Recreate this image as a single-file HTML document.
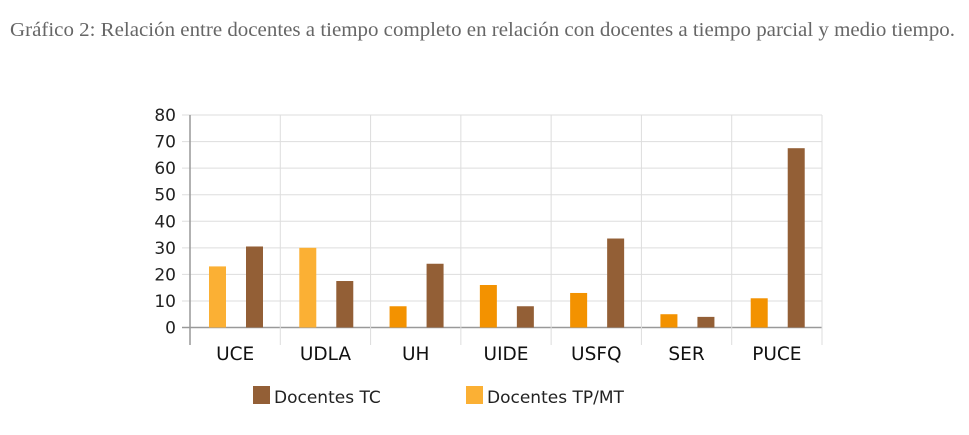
<!DOCTYPE html>
<html><head><meta charset="utf-8"><style>
body{margin:0;background:#fff;width:969px;height:430px;overflow:hidden}
svg text{font-family:"DejaVu Sans","Liberation Sans",sans-serif}
</style></head><body>
<svg width="969" height="430">
<text x="10" y="36" textLength="945" lengthAdjust="spacingAndGlyphs" style="font-family:'Liberation Serif',serif" font-size="19.5" fill="#666">Gráfico 2: Relación entre docentes a tiempo completo en relación con docentes a tiempo parcial y medio tiempo.</text>
<g id="plot"></g>
<rect x="253" y="386" width="17" height="18" fill="#935f36"/>
<text x="274" y="403" font-size="17" fill="#222">Docentes TC</text>
<rect x="466" y="386" width="17" height="18" fill="#fbb034"/>
<text x="487" y="403" font-size="17" fill="#222">Docentes TP/MT</text>
</svg>
<script>
const categories=["UCE","UDLA","UH","UIDE","USFQ","SER","PUCE"];
const tpValues=[23,30,8,16,13,5,11];
const tcValues=[30.5,17.5,24,8,33.5,4,67.5];
const yTicks=[0,10,20,30,40,50,60,70,80];
const NS="http://www.w3.org/2000/svg";
const g=document.getElementById("plot");
const x0=190,x1=822,yTop=115,yBot=327.5,yMax=80;
const cw=(x1-x0)/categories.length;
const y=v=>yBot-(v/yMax)*(yBot-yTop);
function mk(t,a){const e=document.createElementNS(NS,t);for(const k in a)e.setAttribute(k,a[k]);g.appendChild(e);return e;}
yTicks.forEach(t=>{
 const l=mk("line",{x1:x0-8,x2:x1,y1:y(t),y2:y(t),stroke:t===0?"#999":"#ddd","stroke-width":t===0?1.5:1});
 
 
 const tx=mk("text",{x:x0-14,y:y(t)+6,"text-anchor":"end","font-size":"17",fill:"#222"});
 tx.textContent=t;
 
 
});
for(let i=0;i<=categories.length;i++){
 const l=mk("line",{x1:x0+i*cw,x2:x0+i*cw,y1:yTop,y2:345,stroke:i===0?"#999":"#ddd","stroke-width":i===0?1.5:1});
 
 
}
categories.forEach((c,i)=>{
 const cx=x0+i*cw;
 const tp=mk("rect",{x:cx+19,y:y(tpValues[i]),width:17,height:yBot-y(tpValues[i]),fill:i<2?"#fbb034":"#f39200"});
 
 
 const tc=mk("rect",{x:cx+56,y:y(tcValues[i]),width:17,height:yBot-y(tcValues[i]),fill:"#935f36"});
 
 
 const t=mk("text",{x:cx+cw/2,y:360,"text-anchor":"middle","font-size":"18.5",fill:"#111"});
 t.textContent=c;
 
 
});
</script>
</body></html>
